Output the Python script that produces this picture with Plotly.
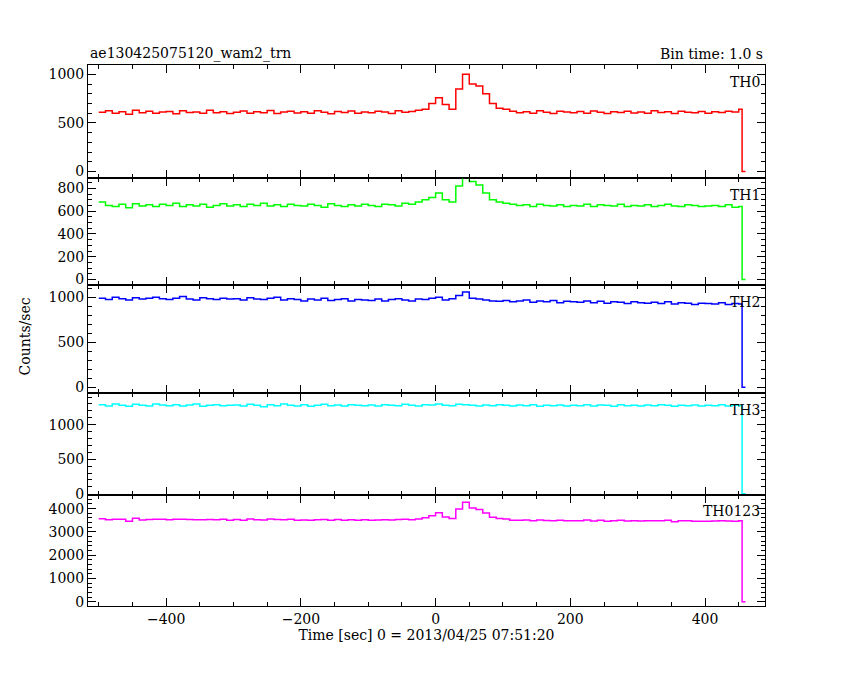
import numpy as np
import plotly.graph_objects as go

t_start, t_step, t_end = -500, 10, 455
th0 = [610,625,600,615,590,630,605,620,600,612,
618,595,625,608,612,600,630,605,615,598,
610,622,600,615,605,628,598,612,620,603,
615,600,625,610,595,618,607,622,600,613,
605,620,612,598,625,610,618,630,640,700,
760,690,640,850,1000,900,880,800,700,650,
640,620,605,615,600,625,610,598,620,612,
605,618,600,622,610,596,615,608,620,603,
612,600,625,607,615,598,620,610,605,618,
600,615,608,620,612,640]
th1 = [680,650,640,660,630,665,645,655,640,660,
650,670,640,655,645,660,635,650,665,645,
655,640,660,650,670,645,655,640,660,650,
645,660,650,635,665,650,640,655,645,660,
650,640,660,655,645,670,660,680,700,720,
760,700,680,820,920,860,830,760,700,680,
670,660,650,655,640,660,650,645,655,640,
650,645,660,640,655,650,645,660,640,650,
645,655,640,650,660,645,640,655,650,640,
645,650,640,655,635,640]
th2 = [990,975,1000,985,970,995,980,990,1000,985,
975,990,1010,980,970,995,985,975,990,980,
985,970,995,980,975,990,1000,970,985,975,
960,980,970,990,965,975,985,960,975,970,
965,980,960,975,985,970,960,980,975,990,
1000,970,985,1020,1060,990,980,970,960,955,
965,950,960,970,945,960,950,965,940,955,
950,945,960,940,955,935,950,945,930,950,
940,935,945,930,950,925,940,935,920,935,
930,925,940,920,930,925]
th3 = [1290,1270,1300,1280,1265,1295,1280,1270,1300,1285,
1275,1290,1270,1285,1300,1265,1280,1290,1275,1280,
1285,1270,1295,1280,1260,1290,1275,1300,1280,1270,
1290,1265,1280,1295,1275,1285,1270,1290,1280,1275,
1285,1270,1290,1280,1275,1295,1280,1270,1290,1285,
1300,1280,1275,1295,1290,1280,1270,1285,1275,1290,
1280,1270,1285,1275,1290,1265,1280,1275,1285,1270,
1280,1275,1290,1270,1285,1280,1265,1290,1275,1280,
1270,1285,1275,1290,1280,1265,1280,1275,1285,1270,
1280,1275,1290,1270,1280,1275]
th_sum = [a+b+c+d for a,b,c,d in zip(th0,th1,th2,th3)]

names = ["TH0","TH1","TH2","TH3","TH0123"]
series = [th0,th1,th2,th3,th_sum]
colors = ["#ff0000","#00ff00","#0000ff","#00ffff","#ff00ff"]
yranges = [[-71,1092],[-52,887],[-66,1132],[-14,1457],[-170,4596]]
ytickvals = [[0,500,1000],[0,200,400,600,800],[0,500,1000],[0,500,1000],[0,1000,2000,3000,4000]]
ydtick_minor = [100,50,100,100,200]
sh = 8/680
domains = [[0.735+sh,0.903+sh],[0.576+sh,0.735+sh],[0.416+sh,0.576+sh],[0.265+sh,0.416+sh],[0.1+sh,0.265+sh]]
xdom = [80/850, 757/850]

times = list(np.arange(t_start, t_end, t_step)) + [t_end, t_end+5]
font = dict(family="DejaVu Serif", size=14, color="black")
fig = go.Figure()
layout = dict(width=850, height=680, plot_bgcolor="white", paper_bgcolor="white",
              showlegend=False, margin=dict(l=0,r=0,t=0,b=0), font=font)
for i,(n,s,c) in enumerate(zip(names,series,colors)):
    k = "" if i==0 else str(i+1)
    fig.add_trace(go.Scatter(x=times, y=list(s)+[0,0],
                             mode="lines", line=dict(color=c, width=1.5, shape="hv"),
                             xaxis="x"+k, yaxis="y"+k))
    layout["yaxis"+k] = dict(domain=domains[i], range=yranges[i], tickvals=ytickvals[i],
        showgrid=False, zeroline=False, showline=True, linecolor="black", mirror="ticks",
        ticks="inside", ticklen=8, tickcolor="black",
        minor=dict(ticks="inside", ticklen=4, dtick=ydtick_minor[i], tickcolor="black"),
        anchor="x"+k, tickfont=font)
    layout["xaxis"+k] = dict(domain=xdom, range=[-516,489], anchor="y"+k,
        showgrid=False, zeroline=False, showline=True,
        linecolor="black", mirror="ticks", ticks="inside", ticklen=8, tickcolor="black",
        tickvals=[-400,-200,0,200,400], showticklabels=(i==4),
        minor=dict(ticks="inside", ticklen=4, dtick=50, tickcolor="black"), tickfont=font)
    if i:
        layout["xaxis"+k]["matches"] = "x"
    fig.add_annotation(text=n, x=xdom[1]-0.003, y=domains[i][1]-0.01, xref="paper", yref="paper",
                       xanchor="right", yanchor="top", showarrow=False, font=font)
layout["xaxis5"]["title"] = dict(text="Time [sec] 0 = 2013/04/25 07:51:20", font=font, standoff=4)
fig.update_layout(**layout)
fig.add_annotation(text="ae130425075120_wam2_trn", x=xdom[0], y=domains[0][1]+0.002, xref="paper", yref="paper",
                   xanchor="left", yanchor="bottom", showarrow=False, font=font)
fig.add_annotation(text="Bin time: 1.0 s", x=xdom[1], y=domains[0][1]+0.002, xref="paper", yref="paper",
                   xanchor="right", yanchor="bottom", showarrow=False, font=font)
fig.add_annotation(text="Counts/sec", x=0.008, y=0.5+sh, xref="paper", yref="paper",
                   textangle=-90, showarrow=False, font=font)
fig.write_html("out.html")
